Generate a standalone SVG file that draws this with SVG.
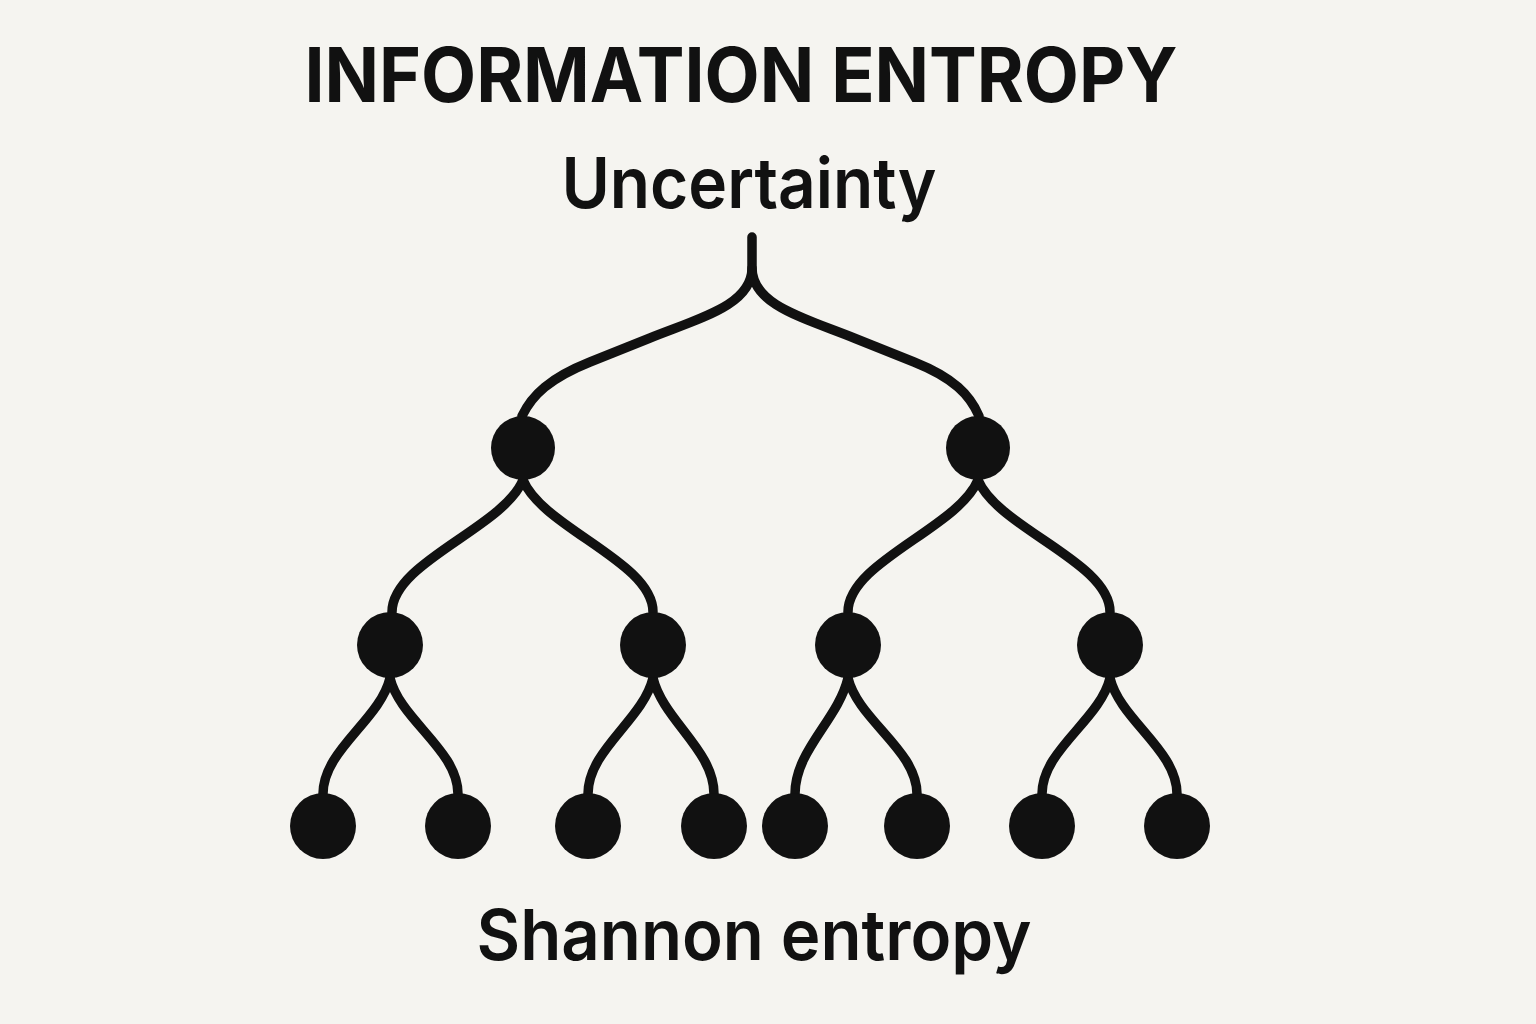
<svg xmlns="http://www.w3.org/2000/svg" width="1536" height="1024" viewBox="0 0 1536 1024">
<style>
.bg{fill:#f5f4f0}
.t{font-family:Inter,"Open Sans","Liberation Sans",sans-serif;fill:#111;text-anchor:middle}
.title{font-size:76px;font-weight:700}
.lbl{font-size:70px;font-weight:600}
.edge{fill:none;stroke:#111;stroke-width:9.5;stroke-linecap:round;stroke-linejoin:round}
.node{fill:#111}
</style>
<rect class="bg" x="0" y="0" width="1536" height="1024"/>
<g id="title"><text class="t title" x="741" y="102" textLength="873" lengthAdjust="spacingAndGlyphs">INFORMATION ENTROPY</text></g>
<g id="uncertainty"><text class="t lbl" x="749" y="208" textLength="375" lengthAdjust="spacingAndGlyphs">Uncertainty</text></g>
<g id="shannon"><text class="t lbl" x="754" y="960" textLength="555" lengthAdjust="spacingAndGlyphs">Shannon entropy</text></g>
<g id="connectors">
<path class="edge" d="M752,237 L752,268 C752,305 700,318 650,338 L590,362 C550,378 532,395 522,416"/>
<path class="edge" d="M752,268 C752,305 804,318 854,338 L914,362 C954,378 970,395 979,416"/>
<path class="edge" d="M523,480 C503,528 392,562 392,612"/>
<path class="edge" d="M523,480 C543,528 653,562 653,612"/>
<path class="edge" d="M978,480 C958,528 848,562 848,612"/>
<path class="edge" d="M978,480 C998,528 1110,562 1110,612"/>
<path class="edge" d="M390,678 C380,720 323,750 323,794"/>
<path class="edge" d="M390,678 C400,720 458,750 458,794"/>
<path class="edge" d="M653,678 C643,720 588,750 588,794"/>
<path class="edge" d="M653,678 C663,720 714,750 714,794"/>
<path class="edge" d="M848,678 C838,720 795,750 795,794"/>
<path class="edge" d="M848,678 C858,720 917,750 917,794"/>
<path class="edge" d="M1110,678 C1100,720 1042,750 1042,794"/>
<path class="edge" d="M1110,678 C1120,720 1177,750 1177,794"/>
</g>
<g id="n1"><circle class="node" cx="523" cy="448" r="32"/></g>
<g id="n2"><circle class="node" cx="978" cy="448" r="32"/></g>
<g id="n3"><circle class="node" cx="390" cy="645" r="33"/></g>
<g id="n4"><circle class="node" cx="653" cy="645" r="33"/></g>
<g id="n5"><circle class="node" cx="848" cy="645" r="33"/></g>
<g id="n6"><circle class="node" cx="1110" cy="645" r="33"/></g>
<g id="l1"><circle class="node" cx="323" cy="826" r="33"/></g>
<g id="l2"><circle class="node" cx="458" cy="826" r="33"/></g>
<g id="l3"><circle class="node" cx="588" cy="826" r="33"/></g>
<g id="l4"><circle class="node" cx="714" cy="826" r="33"/></g>
<g id="l5"><circle class="node" cx="795" cy="826" r="33"/></g>
<g id="l6"><circle class="node" cx="917" cy="826" r="33"/></g>
<g id="l7"><circle class="node" cx="1042" cy="826" r="33"/></g>
<g id="l8"><circle class="node" cx="1177" cy="826" r="33"/></g>
</svg>
